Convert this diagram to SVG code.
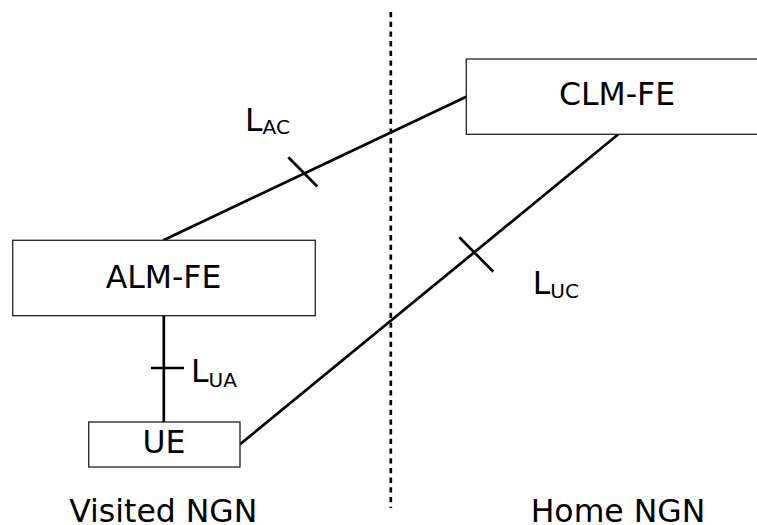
<svg xmlns="http://www.w3.org/2000/svg" width="757" height="525" viewBox="0 0 757 525">
<style>
.box{fill:#fff;stroke:#222;stroke-width:1.3}
.lbl{font-family:"DejaVu Sans","Liberation Sans",sans-serif;font-size:31.5px;fill:#000}
.mid{text-anchor:middle}
.sub{font-size:20px}
.conn{stroke:#000;stroke-width:2.7;fill:none;stroke-linecap:butt}
</style>
<rect width="757" height="525" fill="#fff"/>
<g id="boundary">
<line x1="390.8" y1="12" x2="390.8" y2="508" stroke="#000" stroke-width="2.7" stroke-dasharray="5.3 4.4"/>
</g>
<g id="connectors">
<line class="conn" x1="466.3" y1="96.7" x2="163.3" y2="240.3"/>
<line class="conn" x1="288.3" y1="157.3" x2="317.3" y2="186.5"/>
<line class="conn" x1="163.8" y1="315.7" x2="163.8" y2="422"/>
<line class="conn" x1="151" y1="368" x2="184" y2="368"/>
<line class="conn" x1="240" y1="444.3" x2="618.3" y2="134.3"/>
<line class="conn" x1="459.3" y1="237.3" x2="493.3" y2="271.7"/>
</g>
<g id="CLM-FE">
<rect class="box" x="466.3" y="59" width="302" height="75.3"/>
<text class="lbl mid" x="617" y="105.3">CLM-FE</text>
</g>
<g id="ALM-FE">
<rect class="box" x="12.7" y="240.3" width="302.6" height="75.4"/>
<text class="lbl mid" x="163.5" y="288.3">ALM-FE</text>
</g>
<g id="UE">
<rect class="box" x="88.7" y="422" width="151.3" height="45"/>
<text class="lbl mid" x="164" y="453.3">UE</text>
</g>
<g id="labels">
<text class="lbl" x="245" y="130.7">L<tspan class="sub" dy="3.3">AC</tspan></text>
<text class="lbl" x="191" y="381.7">L<tspan class="sub" dy="5">UA</tspan></text>
<text class="lbl" x="532.7" y="294">L<tspan class="sub" dy="4.3">UC</tspan></text>
<text class="lbl mid" x="163.3" y="521.7">Visited NGN</text>
<text class="lbl" x="530.7" y="521.7">Home NGN</text>
</g>
</svg>
